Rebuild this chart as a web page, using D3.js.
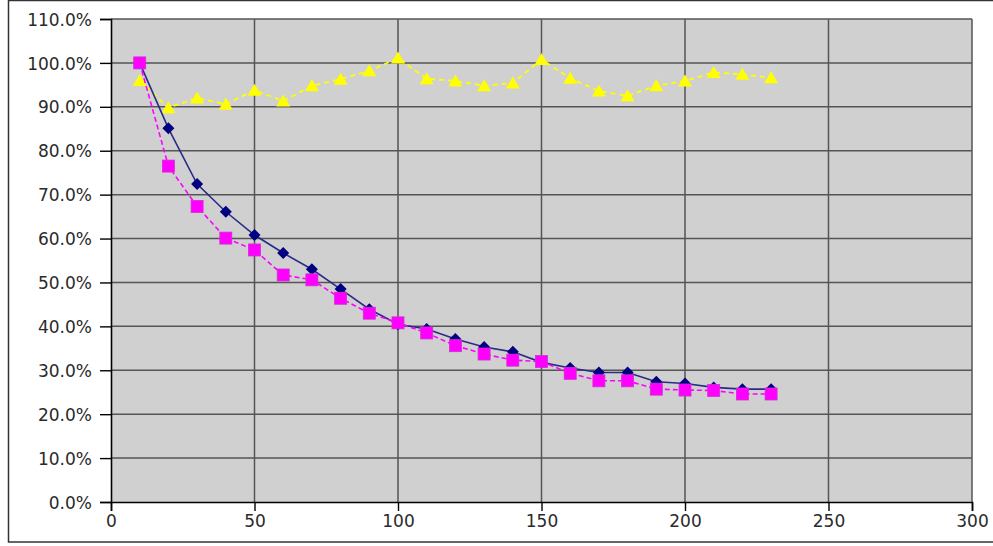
<!DOCTYPE html>
<html>
<head>
<meta charset="utf-8">
<script src="https://cdn.jsdelivr.net/npm/d3@7/dist/d3.min.js"></script>
<style>
  html, body { margin: 0; padding: 0; background: #fff; }
  svg { display: block; }
  .tick text { font-family: "DejaVu Sans", sans-serif; font-size: 17px; fill: #2a2a2a; }
</style>
</head>
<body>
<svg id="chart" width="993" height="546"></svg>
<script>
// X positions of the samples
const xValues = [10, 20, 30, 40, 50, 60, 70, 80, 90, 100, 110, 120, 130, 140, 150, 160, 170, 180, 190, 200, 210, 220, 230];

// Series values, in percent
const navySeries = [100, 85.1, 72.4, 66.1, 60.8, 56.7, 53.0, 48.5, 43.9, 40.5, 39.4, 37.1, 35.3, 34.2, 31.8, 30.5, 29.5, 29.5, 27.4, 27.0, 26.1, 25.7, 25.7];
const magentaSeries = [100, 76.5, 67.3, 60.1, 57.4, 51.7, 50.6, 46.4, 43.0, 40.8, 38.5, 35.6, 33.7, 32.3, 32.0, 29.3, 27.6, 27.6, 25.7, 25.5, 25.4, 24.6, 24.6];
const yellowSeries = [96.0, 89.8, 92.0, 90.6, 93.8, 91.3, 94.8, 96.3, 98.2, 101.1, 96.4, 95.9, 94.8, 95.4, 100.8, 96.5, 93.6, 92.5, 94.8, 95.9, 97.8, 97.4, 96.6];

// Axis ticks
const xTicks = [0, 50, 100, 150, 200, 250, 300];
const yTicks = [0, 10, 20, 30, 40, 50, 60, 70, 80, 90, 100, 110];

const svg = d3.select("#chart");

// Outer frame (right side runs past the window edge)
svg.append("rect")
  .attr("x", 8.5).attr("y", 0.5)
  .attr("width", 1000).attr("height", 541.5)
  .attr("fill", "none").attr("stroke", "#333").attr("stroke-width", 1.5);

const plot = { left: 111, right: 972, top: 19, bottom: 502 };

const x = d3.scaleLinear().domain([0, 300]).range([plot.left, plot.right]);
const y = d3.scaleLinear().domain([0, 110]).range([plot.bottom, plot.top]);

// Plot background
svg.append("rect")
  .attr("x", plot.left).attr("y", plot.top)
  .attr("width", plot.right - plot.left).attr("height", plot.bottom - plot.top)
  .attr("fill", "#d0d0d0");

// Grid lines
const grid = svg.append("g").attr("stroke", "#555").attr("stroke-width", 1.5);
grid.selectAll("line.h").data(yTicks.filter(d => d > 0)).join("line")
  .attr("x1", plot.left).attr("x2", plot.right)
  .attr("y1", d => y(d)).attr("y2", d => y(d));
grid.selectAll("line.v").data(xTicks.filter(d => d > 0)).join("line")
  .attr("x1", d => x(d)).attr("x2", d => x(d))
  .attr("y1", plot.top).attr("y2", plot.bottom);

// Axes
const yAxis = svg.append("g")
  .attr("transform", `translate(${plot.left},0)`)
  .call(d3.axisLeft(y).tickValues(yTicks).tickFormat(d => d.toFixed(1) + "%").tickSize(11).tickPadding(8));
const xAxis = svg.append("g")
  .attr("transform", `translate(0,${plot.bottom})`)
  .call(d3.axisBottom(x).tickValues(xTicks).tickSize(9).tickPadding(4));
[yAxis, xAxis].forEach(a => {
  a.select(".domain").attr("stroke", "#000").attr("stroke-width", 1.6);
  a.selectAll(".tick line").attr("stroke", "#000").attr("stroke-width", 1.4);
});
yAxis.selectAll(".tick text").attr("dy", "0.36em");

const line = d3.line().x(d => x(d[0])).y(d => y(d[1]));
const pairs = vals => xValues.map((v, i) => [v, vals[i]]);

// Yellow series: dashed line with triangles
const yellowData = pairs(yellowSeries);
svg.append("path").datum(yellowData)
  .attr("d", line).attr("fill", "none")
  .attr("stroke", "#ffff00").attr("stroke-width", 1.8).attr("stroke-dasharray", "5,4");
svg.append("g").selectAll("path").data(yellowData).join("path")
  .attr("transform", d => `translate(${x(d[0])},${y(d[1])})`)
  .attr("d", "M0,-6.5L7,5.5L-7,5.5Z")
  .attr("fill", "#ffff00");

// Navy series: solid line with diamonds
const navyData = pairs(navySeries);
svg.append("path").datum(navyData)
  .attr("d", line).attr("fill", "none")
  .attr("stroke", "#2a2a88").attr("stroke-width", 1.6);
svg.append("g").selectAll("path").data(navyData).join("path")
  .attr("transform", d => `translate(${x(d[0])},${y(d[1])})`)
  .attr("d", "M0,-6L6,0L0,6L-6,0Z")
  .attr("fill", "#000080");

// Magenta series: dashed line with squares
const magentaData = pairs(magentaSeries);
svg.append("path").datum(magentaData)
  .attr("d", line).attr("fill", "none")
  .attr("stroke", "#ff00ff").attr("stroke-width", 1.6).attr("stroke-dasharray", "5,3");
svg.append("g").selectAll("rect").data(magentaData).join("rect")
  .attr("x", d => x(d[0]) - 6).attr("y", d => y(d[1]) - 6)
  .attr("width", 12).attr("height", 12)
  .attr("fill", "#ff00ff").attr("stroke", "#d030d0").attr("stroke-width", 0.8);
</script>
</body>
</html>
